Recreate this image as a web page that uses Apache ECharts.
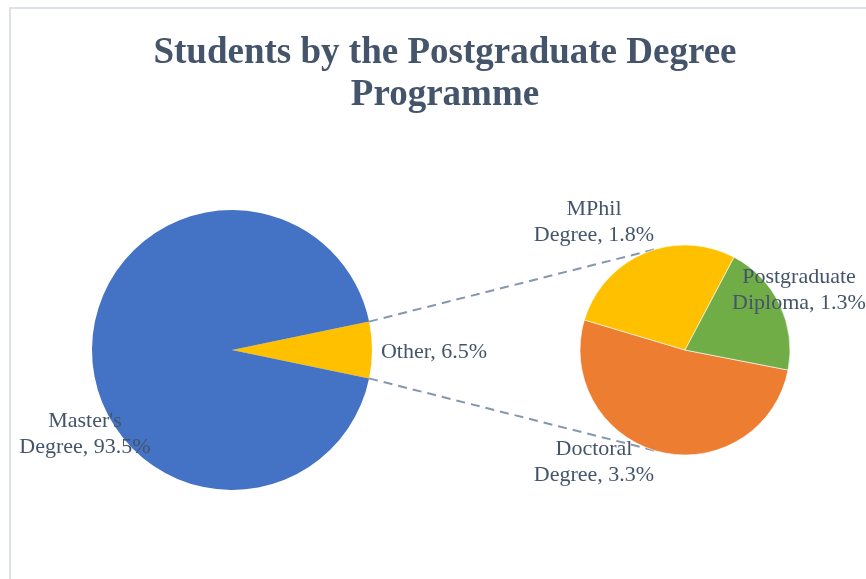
<!DOCTYPE html>
<html>
<head>
<meta charset="utf-8">
<script src="https://cdn.jsdelivr.net/npm/echarts@6/dist/echarts.min.js"></script>
<style>
  html, body { margin: 0; padding: 0; background: #fff; }
  #chart { width: 866px; height: 579px; }
</style>
</head>
<body>
<div id="chart"></div>
<script>
// main pie
const mainNames = ['Other', "Master's\nDegree"]
const mainValues = [6.5, 93.5]
// breakdown of "Other"
const subNames = ['Doctoral\nDegree', 'MPhil\nDegree', 'Postgraduate\nDiploma']
const subValues = [3.3, 1.8, 1.3]

const textColor = '#44546a'
const fontFamily = "'Liberation Serif', 'DejaVu Serif', serif"

const mainCenter = [232, 350]
const mainR = 140
const subCenter = [685, 350]
const subR = 105

// Other slice is centred on 3 o'clock
const otherShare = mainValues[0] / (mainValues[0] + mainValues[1])
const mainStart = otherShare * 180

// where each label sits (text centre)
const mainLabelPos = { 'Other': [434, 352], "Master's\nDegree": [85, 434] }
const subLabelPos = {
  'Doctoral\nDegree': [594, 462],
  'MPhil\nDegree': [594, 222],
  'Postgraduate\nDiploma': [799, 290]
}

const chart = echarts.init(document.getElementById('chart'))

const rad = mainStart * Math.PI / 180
const p1 = [mainCenter[0] + mainR * Math.cos(rad), mainCenter[1] - mainR * Math.sin(rad)]
const p2 = [mainCenter[0] + mainR * Math.cos(rad), mainCenter[1] + mainR * Math.sin(rad)]
const q1 = [subCenter[0] - 0.24 * subR, subCenter[1] - 0.97 * subR]
const q2 = [subCenter[0] - 0.24 * subR, subCenter[1] + 0.97 * subR]

const labelStyle = {
  color: textColor,
  fontFamily,
  fontSize: 22,
  lineHeight: 26,
  align: 'center'
}

const option = {
  backgroundColor: '#fff',
  animation: false,
  title: {
    text: 'Students by the Postgraduate Degree\nProgramme',
    left: 440,
    top: 27,
    textAlign: 'center',
    textStyle: {
      color: textColor,
      fontFamily,
      fontWeight: 'bold',
      fontSize: 37,
      lineHeight: 42
    }
  },
  graphic: [
    {
      type: 'rect',
      shape: { x: 10, y: 8, width: 900, height: 600 },
      style: { fill: 'none', stroke: '#dde2e8', lineWidth: 2 },
      z: -1
    },
    {
      type: 'line',
      shape: { x1: p1[0], y1: p1[1], x2: q1[0], y2: q1[1] },
      style: { stroke: '#8497b0', lineWidth: 2, lineDash: [9, 6] },
      z: 1
    },
    {
      type: 'line',
      shape: { x1: p2[0], y1: p2[1], x2: q2[0], y2: q2[1] },
      style: { stroke: '#8497b0', lineWidth: 2, lineDash: [9, 6] },
      z: 1
    }
  ],
  series: [
    {
      type: 'pie',
      center: mainCenter,
      radius: mainR,
      startAngle: mainStart,
      clockwise: true,
      z: 2,
      data: mainNames.map((n, i) => ({
        name: n,
        value: mainValues[i],
        itemStyle: { color: i === 0 ? '#ffc000' : '#4472c4' }
      })),
      label: {
        show: true,
        position: 'inside',
        formatter: p => p.name + ', ' + p.value.toFixed(1) + '%',
        ...labelStyle
      },
      labelLine: { show: false },
      labelLayout: p => {
        const pos = mainLabelPos[mainNames[p.dataIndex]]
        return { x: pos[0], y: pos[1], align: 'center', verticalAlign: 'middle' }
      },
      emphasis: { disabled: true }
    },
    {
      type: 'pie',
      center: subCenter,
      radius: subR,
      startAngle: -11,
      clockwise: true,
      z: 2,
      data: subNames.map((n, i) => ({
        name: n,
        value: subValues[i],
        itemStyle: { color: ['#ed7d31', '#ffc000', '#70ad47'][i] }
      })),
      itemStyle: { borderColor: '#fff', borderWidth: 0.6 },
      label: {
        show: true,
        position: 'inside',
        formatter: p => p.name + ', ' + p.value.toFixed(1) + '%',
        ...labelStyle
      },
      labelLine: { show: false },
      labelLayout: p => {
        const pos = subLabelPos[subNames[p.dataIndex]]
        return { x: pos[0], y: pos[1], align: 'center', verticalAlign: 'middle' }
      },
      emphasis: { disabled: true }
    }
  ]
}

chart.setOption(option)
</script>
</body>
</html>
